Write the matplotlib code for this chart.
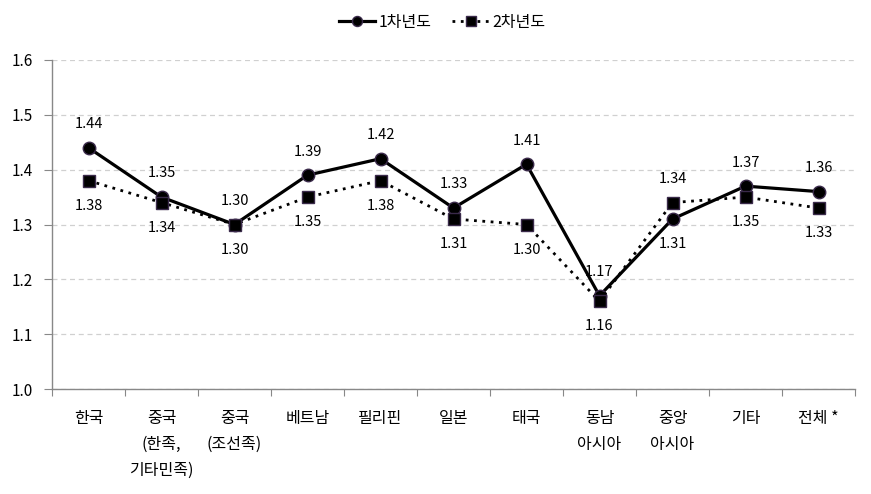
import matplotlib
matplotlib.use("Agg")
import matplotlib.pyplot as plt
import numpy as np

plt.rcParams['font.family'] = ['Noto Sans CJK KR', 'DejaVu Sans']

categories = ["한국", "중국\n(한족,\n기타민족)", "중국\n(조선족)", "베트남", "필리핀", "일본",
              "태국", "동남\n아시아", "중앙\n아시아", "기타", "전체 *"]
year1 = [1.44, 1.35, 1.30, 1.39, 1.42, 1.33, 1.41, 1.17, 1.31, 1.37, 1.36]
year2 = [1.38, 1.34, 1.30, 1.35, 1.38, 1.31, 1.30, 1.16, 1.34, 1.35, 1.33]
series_names = ["1차년도", "2차년도"]
yticks = [1.0, 1.1, 1.2, 1.3, 1.4, 1.5, 1.6]

W, H = 871, 494
fig = plt.figure(figsize=(W/100, H/100), dpi=100)
ax = fig.add_axes([52/W, 1-389/H, (855-52)/W, (389-60)/H])

x = np.arange(len(categories))
ax.plot(x, year1, color='black', lw=2.3, marker='o', ms=9, mfc='black', mec='#3a2a4a',
        label=series_names[0], zorder=3)
ax.plot(x, year2, color='black', lw=2.0, ls=(0, (1, 2)), marker='s', ms=9, mfc='black',
        mec='#3a2a4a', label=series_names[1], zorder=4)

for i in range(len(x)):
    a, b = year1[i], year2[i]
    if a >= b:
        up, down = a, b
    else:
        up, down = b, a
    ax.annotate(f"{up:.2f}", (x[i], up), xytext=(0, 17), textcoords='offset points',
                ha='center', va='center', fontsize=10.5)
    ax.annotate(f"{down:.2f}", (x[i], down), xytext=(0, -18), textcoords='offset points',
                ha='center', va='center', fontsize=10.5)

ax.set_xlim(-0.5, len(categories) - 0.5)
ax.set_ylim(1.0, 1.6)
ax.set_yticks(yticks)
ax.set_yticklabels([f"{v:.1f}" for v in yticks], fontsize=11)
ax.set_xticks(np.arange(len(categories) + 1) - 0.5, minor=False)
ax.set_xticklabels([])
ax.set_xticks(x, minor=True)
ax.set_xticklabels(categories, minor=True, fontsize=11.5, linespacing=1.7, va='top')
ax.tick_params(axis='x', which='minor', length=0, pad=15)
ax.tick_params(axis='x', which='major', length=5, color='#888888', direction='out')
ax.tick_params(axis='y', length=6, color='#888888', direction='out', pad=8)

ax.grid(axis='y', color='#d0d0d0', ls=(0, (4, 3)), lw=0.9)
ax.set_axisbelow(True)
for s in ['top', 'right']:
    ax.spines[s].set_visible(False)
for s in ['left', 'bottom']:
    ax.spines[s].set_color('#888888')
    ax.spines[s].set_linewidth(1.0)

fig.legend(loc='center', bbox_to_anchor=(442/W, 1-22/H), ncol=2, frameon=False,
           fontsize=11.5, handlelength=2.3, columnspacing=1.3, handletextpad=0.2,
           markerscale=0.8)

fig.savefig("out.png", dpi=100)
